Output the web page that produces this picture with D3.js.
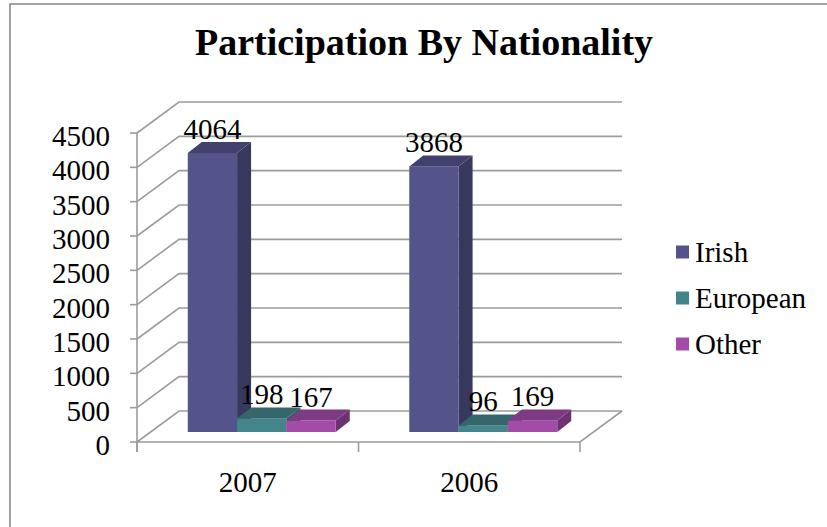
<!DOCTYPE html>
<html>
<head>
<meta charset="utf-8">
<script src="https://cdn.jsdelivr.net/npm/d3@7/dist/d3.min.js"></script>
<style>
  html, body { margin: 0; padding: 0; background: #ffffff; }
  svg { display: block; }
</style>
</head>
<body>
<svg id="chart" width="827" height="527"></svg>
<script>
// ---- data ----
const categories = ["2007", "2006"];
const seriesNames = ["Irish", "European", "Other"];
const irishValues = [4064, 3868];
const europeanValues = [198, 96];
const otherValues = [167, 169];
const yTickValues = [0, 500, 1000, 1500, 2000, 2500, 3000, 3500, 4000, 4500];
const chartTitle = "Participation By Nationality";

const seriesValues = [irishValues, europeanValues, otherValues];
const colors = [
  { front: "#55548A", side: "#38375C", top: "#42416E", legend: "#55538B" },
  { front: "#43858A", side: "#2C5E62", top: "#33676B", legend: "#428588" },
  { front: "#A24CA7", side: "#6F3173", top: "#7E3A83", legend: "#A24CA7" }
];
const FONT = "'Liberation Serif', Tinos, 'Times New Roman', Times, 'DejaVu Serif', 'Noto Serif', FreeSerif, serif";

// ---- layout ----
const svg = d3.select("#chart").attr("font-family", FONT);
const floorLeft = 137, floorRight = 580;
const depthX = 42, depthY = -31;          // wall depth offset
const barOffX = 14, barOffY = -10;        // bar front plane depth
const barDepthX = 14, barDepthY = -11;    // bar thickness

const y = d3.scaleLinear().domain([0, 4500]).range([442, 133]);
const x0 = d3.scaleBand().domain(categories).range([floorLeft, floorRight])
  .paddingInner(0.332).paddingOuter(0.166);
const x1 = d3.scaleBand().domain(seriesNames).range([0, x0.bandwidth()]);
const xCat = d3.scaleBand().domain(categories).range([floorLeft, floorRight]);

const gridColor = "#9c9c9c";

function txt(sel) { return sel.append("text").attr("font-family", FONT).attr("fill", "#000"); }

// outer chart border (cropped at right and bottom)
svg.append("rect").attr("x", 10).attr("y", 4).attr("width", 900).attr("height", 700)
  .attr("fill", "none").attr("stroke", "#8a8a8a").attr("stroke-width", 1.6);

// title
txt(svg).attr("x", 424).attr("y", 55).attr("text-anchor", "middle")
  .attr("font-size", 38).attr("font-weight", "bold").text(chartTitle);

// gridlines: side wall diagonals + back wall horizontals
const grid = svg.append("g").attr("stroke", gridColor).attr("stroke-width", 1.6).attr("fill", "none");
yTickValues.forEach(v => {
  const yf = y(v);
  grid.append("path").attr("d",
    `M${floorLeft},${yf} L${floorLeft + depthX},${yf + depthY} L${floorRight + depthX},${yf + depthY}`);
});
// floor
grid.append("path").attr("d",
  `M${floorLeft},${y(0)} L${floorRight},${y(0)} L${floorRight + depthX},${y(0) + depthY}`);
// front value axis line
grid.append("line").attr("x1", floorLeft).attr("x2", floorLeft)
  .attr("y1", y(4500)).attr("y2", y(0) + 10);
// value ticks
yTickValues.forEach(v => {
  grid.append("line").attr("x1", floorLeft - 7).attr("x2", floorLeft)
    .attr("y1", y(v)).attr("y2", y(v));
});
// category ticks
const catEdges = [floorLeft, floorLeft + xCat.step(), floorRight];
catEdges.forEach(xe => {
  grid.append("line").attr("x1", xe).attr("x2", xe).attr("y1", y(0)).attr("y2", y(0) + 10);
});

// value tick labels
const yLab = svg.append("g");
yTickValues.forEach(v => {
  txt(yLab).attr("x", 110).attr("y", y(v) + 3)
    .attr("text-anchor", "end").attr("dominant-baseline", "central")
    .attr("font-size", 29).text(v);
});

// category labels
const cLab = svg.append("g");
categories.forEach(c => {
  txt(cLab).attr("x", xCat(c) + xCat.bandwidth() / 2).attr("y", 492)
    .attr("text-anchor", "middle").attr("font-size", 29).text(c);
});

// bars
const bars = svg.append("g");
categories.forEach((cat, ci) => {
  seriesNames.forEach((s, si) => {
    const v = seriesValues[si][ci];
    const xl = x0(cat) + x1(s) + barOffX;
    const xr = xl + x1.bandwidth();
    const yb = y(0) + barOffY;
    const yt = y(v) + barOffY;
    const c = colors[si];
    bars.append("path").attr("fill", c.side).attr("d",
      `M${xr},${yt} L${xr + barDepthX},${yt + barDepthY} L${xr + barDepthX},${yb + barDepthY} L${xr},${yb} Z`);
    bars.append("rect").attr("fill", c.front)
      .attr("x", xl).attr("y", yt).attr("width", xr - xl).attr("height", yb - yt);
    bars.append("path").attr("fill", c.top).attr("d",
      `M${xl},${yt} L${xl + barDepthX},${yt + barDepthY} L${xr + barDepthX},${yt + barDepthY} L${xr},${yt} Z`);
  });
});

// data labels
const dLab = svg.append("g");
categories.forEach((cat, ci) => {
  seriesNames.forEach((s, si) => {
    const v = seriesValues[si][ci];
    const xc = x0(cat) + x1(s) + barOffX + x1.bandwidth() / 2;
    const yl = y(v) + barOffY + barDepthY - 3;
    txt(dLab).attr("x", xc).attr("y", yl).attr("text-anchor", "middle")
      .attr("font-size", 29).text(v);
  });
});

// legend
const legend = svg.append("g");
const legendY = d3.scalePoint().domain(seriesNames).range([252, 344]);
seriesNames.forEach((s, si) => {
  legend.append("rect").attr("x", 676).attr("y", legendY(s) - 6.5)
    .attr("width", 13).attr("height", 13).attr("fill", colors[si].legend);
  txt(legend).attr("x", 695).attr("y", legendY(s))
    .attr("dominant-baseline", "central").attr("font-size", 29).text(s);
});
</script>
</body>
</html>
